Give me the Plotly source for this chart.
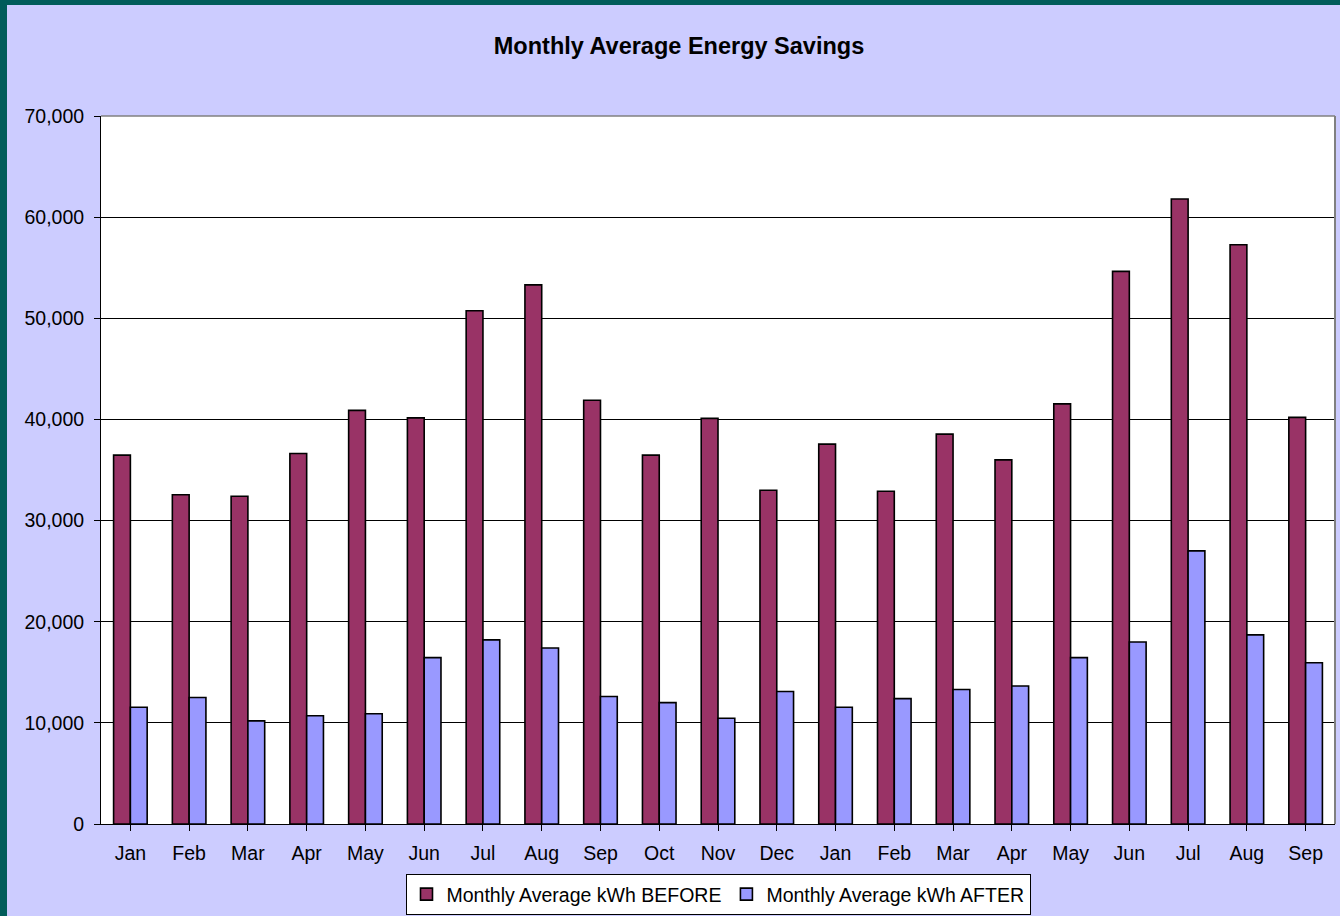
import plotly.graph_objects as go

months = ["Jan", "Feb", "Mar", "Apr", "May", "Jun", "Jul", "Aug", "Sep", "Oct", "Nov", "Dec",
          "Jan", "Feb", "Mar", "Apr", "May", "Jun", "Jul", "Aug", "Sep"]
kwh_before = [36470, 32550, 32400, 36630, 40900, 40150, 50750, 53300, 41900, 36470, 40100, 33000,
              37560, 32900, 38550, 36000, 41540, 54640, 61800, 57270, 40200]
kwh_after = [11550, 12500, 10200, 10700, 10900, 16450, 18200, 17400, 12600, 12000, 10450, 13100,
             11550, 12400, 13300, 13650, 16450, 18000, 27000, 18700, 15950]
y_ticks = [0, 10000, 20000, 30000, 40000, 50000, 60000, 70000]

x_idx = list(range(len(months)))

W, H = 1340, 916
L, R, T, B = 101, 5, 116, 92
pw, ph = W - L - R, H - T - B

def px_x(p):
    return (p - L) / pw

def px_y(p):
    return (H - B - p) / ph

fig = go.Figure()
fig.add_trace(go.Bar(x=x_idx, y=kwh_before, name="Monthly Average kWh BEFORE",
                     marker=dict(color="#993366", line=dict(color="black", width=1.6))))
fig.add_trace(go.Bar(x=x_idx, y=kwh_after, name="Monthly Average kWh AFTER",
                     marker=dict(color="#9999FF", line=dict(color="black", width=1.6))))

font = "Liberation Sans, Arial, sans-serif"

fig.update_layout(
    width=W, height=H,
    margin=dict(l=L, r=R, t=T, b=B, pad=0, autoexpand=False),
    paper_bgcolor="#CCCCFF",
    plot_bgcolor="white",
    barmode="group",
    bargap=0.4286,
    bargroupgap=0,
    font=dict(family=font, size=19.5, color="black"),
    title=dict(text="<b>Monthly Average Energy Savings</b>", x=679 / W, xanchor="center",
               y=1 - 46 / H, yanchor="middle", yref="container",
               font=dict(family=font, size=23.5, color="black")),
    showlegend=True,
    legend=dict(orientation="h", x=0.5, xanchor="center", y=px_y(915), yanchor="bottom",
                bgcolor="white", bordercolor="black", borderwidth=1,
                font=dict(family=font, size=19.5, color="black"),
                itemwidth=30, traceorder="normal"),
    xaxis=dict(tickmode="array", tickvals=x_idx, ticktext=months, range=[-0.5, len(months) - 0.5],
               showgrid=False, showline=True, linecolor="black", linewidth=1,
               ticks="outside", tickson="boundaries", ticklen=6, tickcolor="black",
               ticklabelstandoff=6, zeroline=False, fixedrange=True, automargin=False),
    yaxis=dict(range=[0, 70000], tickmode="array", tickvals=y_ticks,
               ticktext=[f"{v:,}" for v in y_ticks],
               showgrid=True, gridcolor="black", gridwidth=1,
               showline=True, linecolor="black", linewidth=1,
               ticks="outside", ticklen=6, tickcolor="black",
               ticklabelstandoff=6, zeroline=False, fixedrange=True, automargin=False),
    shapes=[
        # top & right plot border (gray)
        dict(type="line", xref="paper", yref="paper", x0=0, x1=1, y0=1, y1=1,
             line=dict(color="#808080", width=1.5)),
        dict(type="line", xref="paper", yref="paper", x0=1, x1=1, y0=0, y1=1,
             line=dict(color="#808080", width=2)),
        # teal frame strips (left and top)
        dict(type="rect", xref="paper", yref="paper", x0=px_x(0), x1=px_x(7), y0=px_y(H), y1=px_y(0),
             fillcolor="#005C5A", line=dict(width=0), layer="above"),
        dict(type="rect", xref="paper", yref="paper", x0=px_x(0), x1=px_x(W), y0=px_y(5), y1=px_y(0),
             fillcolor="#005C5A", line=dict(width=0), layer="above"),
    ],
)

fig.write_html("out.html",
               config={"displayModeBar": False},
               post_script="document.body.style.margin='0';document.body.style.padding='0';"
                           "document.body.style.overflow='hidden';")
